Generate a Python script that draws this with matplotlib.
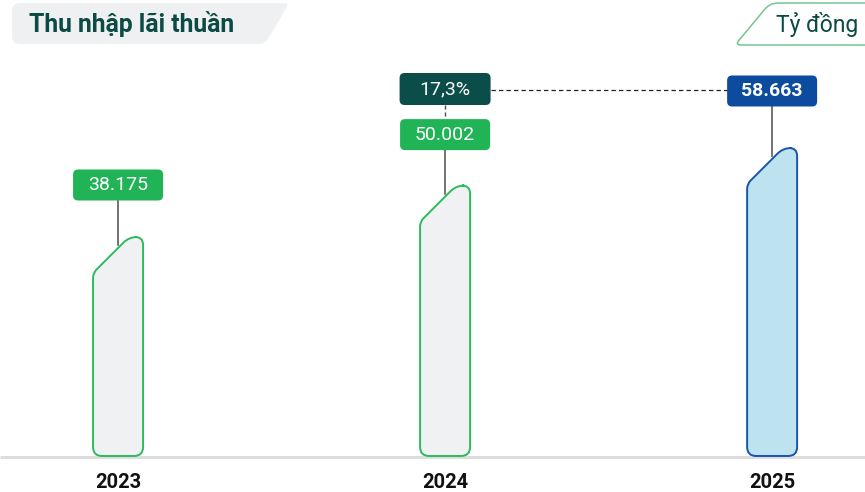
import numpy as np
import matplotlib.pyplot as plt
from matplotlib.path import Path
from matplotlib.patches import PathPatch

# data
years = ['2023', '2024', '2025']
values = [38175, 50002, 58663]
value_labels = ['38.175', '50.002', '58.663']
growth_label = '17,3%'
title = 'Thu nhập lãi thuần'
unit = 'Tỷ đồng'

plt.rcParams['font.family'] = ['Roboto', 'DejaVu Sans']

W, H = 865, 492
fig = plt.figure(figsize=(W / 100, H / 100), dpi=100)
ax = fig.add_axes([0, 0, 1, 1])
ax.set_xlim(-0.361, 2.284)
ax.set_ylim(-20530, 92730)
ax.axis('off')
base = -12240  # value at the baseline of the bars


def to_px(x, y):
    dx, dy = ax.transData.transform((x, y))
    return dx, H - dy


def from_px(px, py):
    return ax.transData.inverted().transform((px, H - py))


def rounded(points, r):
    # polygon in pixel coords (y down) with rounded corners -> Path in data coords
    n = len(points)
    if np.isscalar(r):
        r = [r] * n
    verts, codes = [], []
    for i in range(n):
        p0 = np.array(points[i - 1], float)
        p1 = np.array(points[i], float)
        p2 = np.array(points[(i + 1) % n], float)
        d1 = p0 - p1
        d2 = p2 - p1
        a = p1 + d1 / np.linalg.norm(d1) * r[i]
        b = p1 + d2 / np.linalg.norm(d2) * r[i]
        verts.append(a)
        codes.append(Path.MOVETO if i == 0 else Path.LINETO)
        verts += [p1, b]
        codes += [Path.CURVE3, Path.CURVE3]
    verts.append(verts[0])
    codes.append(Path.CLOSEPOLY)
    return Path([from_px(*v) for v in verts], codes)


def box(cx, cy, w, h, color, r=5, z=5):
    pts = [(cx - w / 2, cy - h / 2), (cx + w / 2, cy - h / 2),
           (cx + w / 2, cy + h / 2), (cx - w / 2, cy + h / 2)]
    ax.add_patch(PathPatch(rounded(pts, r), facecolor=color, edgecolor='none', zorder=z))


# title and unit boxes
ax.add_patch(PathPatch(rounded([(12, 3), (289, 3), (265, 44), (12, 44)], [8, 4, 6, 8]),
                       facecolor='#eef0f1', edgecolor='none', zorder=1))
tx, ty = from_px(29, 24)
ax.text(tx, ty, title, fontsize=17.8, fontweight='bold', color='#0c4a44', va='center', ha='left')

ax.add_patch(PathPatch(rounded([(770, 3), (890, 3), (890, 45), (735, 45)], [8, 8, 8, 6]),
                       facecolor='white', edgecolor='#72c78f', lw=1.1, zorder=1))
ux, uy = from_px(776, 25)
ax.text(ux, uy, unit, fontsize=16.5, color='#0c4a44', va='center', ha='left')

# baseline
bx0, by0 = from_px(0, 457)
bx1, _ = from_px(W, 457)
ax.plot([bx0, bx1], [by0, by0], color='#dddddd', lw=2.2, zorder=2, solid_capstyle='butt')

styles = [('#f0f1f3', '#2dba5d', '#20b456'),
          ('#f0f1f3', '#2dba5d', '#20b456'),
          ('#bde3f0', '#1a54a8', '#0d4b9f')]
label_gap = [52, 51, 57]

tops = []
for i, (yr, v, lab) in enumerate(zip(years, values, value_labels)):
    cx, top = to_px(i, v)
    _, bot = to_px(i, base)
    L, R = cx - 25, cx + 25
    pts = [(L, bot), (L, top + 36), (L + 36, top), (R, top), (R, bot)]
    fill, edge, lbl = styles[i]
    ax.add_patch(PathPatch(rounded(pts, [9, 5, 8, 8, 9]), facecolor=fill, edgecolor=edge,
                           lw=1.4, zorder=4))
    ly = top - label_gap[i]
    # connector
    c0 = from_px(cx, ly)
    c1 = from_px(cx, top + 8)
    ax.plot([c0[0], c1[0]], [c0[1], c1[1]], color='#4d4d4d', lw=1.1, zorder=3)
    box(cx, ly, 90, 31, lbl)
    lx, lyd = from_px(cx, ly)
    ax.text(lx, lyd, lab, fontsize=14, color='white', ha='center', va='center', zorder=6,
            fontweight='bold' if i == 2 else 'normal')
    yx, yy = from_px(cx, 483)
    ax.text(yx, yy, yr, fontsize=14.5, fontweight='bold', color='#111111', ha='center', va='center')
    tops.append((cx, top, ly))

# growth box above 2024 and dashed link to 2025
gx, gtop, gly = tops[1]
gy = 89
box(gx, gy, 91, 32, '#0b4d49')
tx, ty = from_px(gx, gy)
ax.text(tx, ty, growth_label, fontsize=14, color='white', ha='center', va='center', zorder=6)
a0 = from_px(gx, gy + 16)
a1 = from_px(gx, gly - 15.5)
ax.plot([a0[0], a1[0]], [a0[1], a1[1]], color='#4d4d4d', lw=1, ls=(0, (3, 2)), zorder=3)
d0 = from_px(gx + 45.5, 90)
d1 = from_px(tops[2][0] - 45, 90)
ax.plot([d0[0], d1[0]], [d0[1], d1[1]], color='#222222', lw=0.9, ls=(0, (3.5, 2.5)), zorder=3)

fig.savefig('out.png', dpi=100)
